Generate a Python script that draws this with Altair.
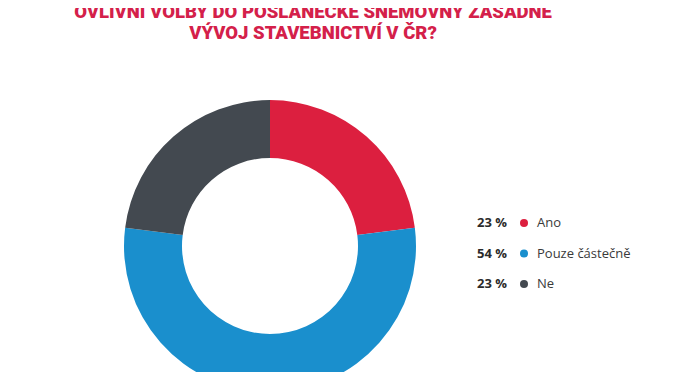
import altair as alt
import pandas as pd

categories = ["Ano", "Pouze částečně", "Ne"]
values = [23, 54, 23]
colors = ["#dc1f3f", "#1a8fcd", "#434950"]
title_lines = ["OVLIVNÍ VOLBY DO POSLANECKÉ SNĚMOVNY ZÁSADNĚ", "VÝVOJ STAVEBNICTVÍ V ČR?"]

df = pd.DataFrame({
    "category": categories,
    "value": values,
    "order": list(range(len(categories))),
    "pct": [f"{v} %" for v in values],
})

color_scale = alt.Scale(domain=categories, range=colors)
ypos = alt.Y("category:N", sort=categories, axis=None,
             scale=alt.Scale(domain=categories, range=[215, 276], type="point", padding=0))

base = alt.Chart(df)

arc = base.mark_arc(innerRadius=88, outerRadius=146).encode(
    theta=alt.Theta("value:Q", stack=True),
    order=alt.Order("order:Q"),
    color=alt.Color("category:N", scale=color_scale, legend=None),
    x=alt.value(262),
    y=alt.value(238),
)

pct = base.mark_text(align="left", baseline="middle", fontSize=13, fontWeight="bold",
                     font="Open Sans", color="#2b2b2b").encode(
    x=alt.value(469), y=ypos, text="pct:N")

dots = base.mark_point(filled=True, size=64, opacity=1).encode(
    x=alt.value(516), y=ypos,
    color=alt.Color("category:N", scale=color_scale, legend=None))

labels = base.mark_text(align="left", baseline="middle", fontSize=13,
                        font="Open Sans", color="#3a3a3a").encode(
    x=alt.value(529), y=ypos, text="category:N")

title = alt.Chart(pd.DataFrame({"t": [0]})).mark_text(
    text=title_lines, align="center", baseline="alphabetic", fontSize=18.5,
    fontWeight=900, font="Roboto", color="#d4204a", lineHeight=21,
).encode(x=alt.value(305), y=alt.value(10))

chart = alt.layer(arc, pct, dots, labels, title).properties(
    width=658, height=364, padding=0, autosize=alt.AutoSizeParams(type="none")
).configure_view(stroke=None)

chart.save("out.html", embed_options={"renderer": "svg", "actions": False})
